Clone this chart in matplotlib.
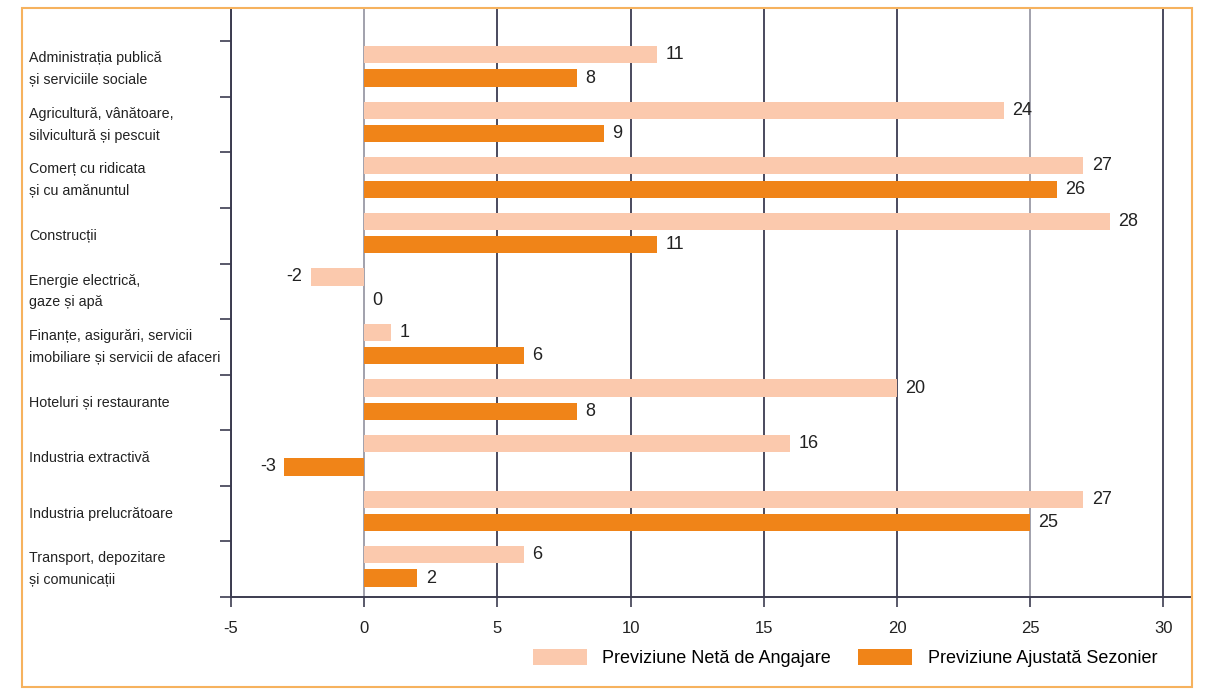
import matplotlib.pyplot as plt
from matplotlib.patches import Patch, Rectangle
from matplotlib.transforms import blended_transform_factory
import numpy as np

plt.rcParams["font.family"] = ["Liberation Sans", "DejaVu Sans"]

CATEGORIES = [
    "Administrația publică\nși serviciile sociale",
    "Agricultură, vânătoare,\nsilvicultură și pescuit",
    "Comerț cu ridicata\nși cu amănuntul",
    "Construcții",
    "Energie electrică,\ngaze și apă",
    "Finanțe, asigurări, servicii\nimobiliare și servicii de afaceri",
    "Hoteluri și restaurante",
    "Industria extractivă",
    "Industria prelucrătoare",
    "Transport, depozitare\nși comunicații",
]
NET_VALUES = [11, 24, 27, 28, -2, 1, 20, 16, 27, 6]
ADJUSTED_VALUES = [8, 9, 26, 11, 0, 6, 8, -3, 25, 2]
X_TICKS = [-5, 0, 5, 10, 15, 20, 25, 30]
LEGEND_LABELS = ["Previziune Netă de Angajare", "Previziune Ajustată Sezonier"]

LIGHT = "#fbc9ad"
DARK = "#f08418"
FRAME = "#f6b25e"
GRID_DARK = "#3c3c50"
GRID_LIGHT = "#9a9aa6"
TEXT = "#222222"


def label_bars(ax, positions, values):
    for pos, value in zip(positions, values):
        offset = 6 if value >= 0 else -6
        ax.annotate(str(value), (value, pos), xytext=(offset, 0), textcoords="offset points",
                    ha="left" if value >= 0 else "right", va="center", fontsize=13, color=TEXT)


fig = plt.figure(figsize=(12.13, 7.0), dpi=100)
ax = fig.add_axes([231 / 1213, 1 - 597 / 700, (1190 - 231) / 1213, (597 - 8) / 700])

y = np.arange(len(CATEGORIES))
bar_height = 0.31
net_pos = y - 0.26
adj_pos = y + 0.16
ax.barh(net_pos, NET_VALUES, height=bar_height, color=LIGHT, zorder=2)
ax.barh(adj_pos, ADJUSTED_VALUES, height=bar_height, color=DARK, zorder=2)
label_bars(ax, net_pos, NET_VALUES)
label_bars(ax, adj_pos, ADJUSTED_VALUES)

label_transform = blended_transform_factory(fig.transFigure, ax.transData)
for pos, name in zip(y, CATEGORIES):
    ax.text(29 / 1213, pos, name, transform=label_transform, ha="left", va="center",
            fontsize=10.3, color=TEXT, linespacing=1.7)

ax.set_xlim(-5, 31)
ax.set_ylim(len(CATEGORIES) - 0.5, -1.1)

ax.set_xticks(X_TICKS)
ax.set_xticklabels([str(t) for t in X_TICKS], fontsize=12, color=TEXT)
ax.tick_params(axis="x", direction="out", length=7, width=1.2, color=GRID_DARK, pad=10)

ax.set_yticks(np.arange(len(CATEGORIES) + 1) - 0.5)
ax.set_yticklabels([])
ax.tick_params(axis="y", direction="out", length=8, width=1.2, color=GRID_DARK)

ax.grid(axis="x", color=GRID_DARK, linewidth=1.3, zorder=1)
ax.set_axisbelow(True)
for tick, line in zip(X_TICKS, ax.get_xgridlines()):
    if tick in (0, 25):
        line.set_color(GRID_LIGHT)

for side in ("top", "right"):
    ax.spines[side].set_visible(False)
for side in ("left", "bottom"):
    ax.spines[side].set_color(GRID_DARK)
    ax.spines[side].set_linewidth(1.4)

fig.patches.append(Rectangle((22 / 1213, 1 - 687 / 700), (1192 - 22) / 1213, (687 - 8) / 700,
                             transform=fig.transFigure, fill=False, edgecolor=FRAME,
                             linewidth=1.5, zorder=0))

handles = [Patch(facecolor=LIGHT), Patch(facecolor=DARK)]
fig.legend(handles, LEGEND_LABELS, loc="center", bbox_to_anchor=(845 / 1213, 1 - 658 / 700),
           ncol=2, frameon=False, fontsize=13, handlelength=3.0, handleheight=1.0,
           handletextpad=0.85, columnspacing=1.5, borderpad=0.2)

fig.savefig("out.png", dpi=100)
